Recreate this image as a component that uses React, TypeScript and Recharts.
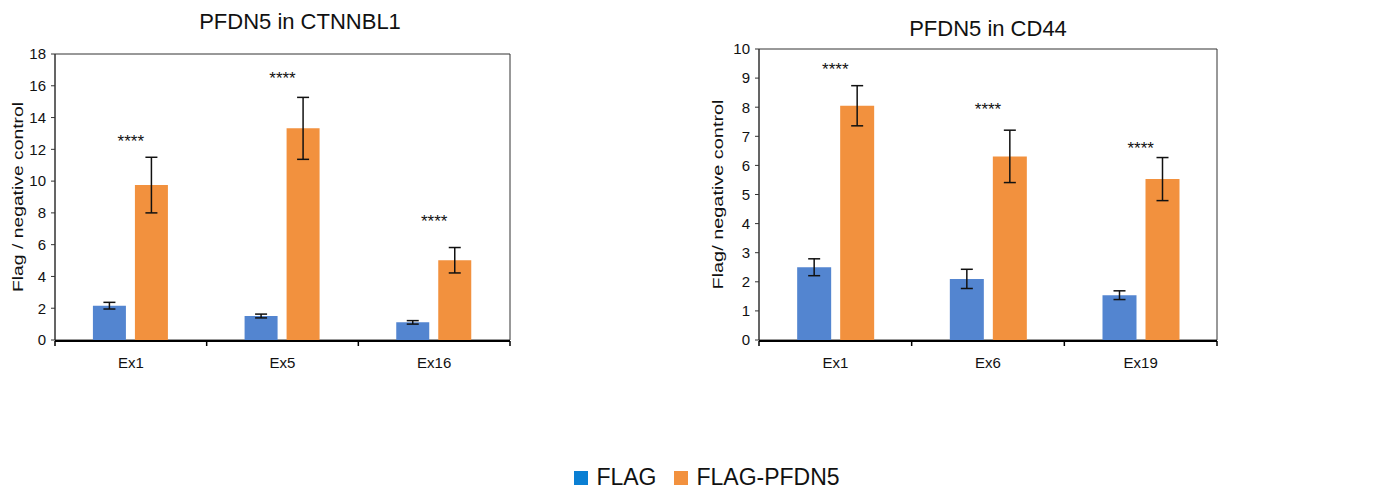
import React from 'react';
import {
  ComposedChart, Bar, Scatter, XAxis, YAxis, ErrorBar, ReferenceArea
} from 'recharts';

// left panel: PFDN5 in CTNNBL1
const ctnnbl1Exons = ['Ex1', 'Ex5', 'Ex16'];
const ctnnbl1Flag = [2.16, 1.51, 1.11];
const ctnnbl1FlagErr = [0.21, 0.12, 0.11];
const ctnnbl1Pfdn5 = [9.75, 13.32, 5.02];
const ctnnbl1Pfdn5Err = [1.75, 1.95, 0.8];
const ctnnbl1Stars = [12.7, 16.7, 7.67];
const ctnnbl1Ticks = [0, 2, 4, 6, 8, 10, 12, 14, 16, 18];

// right panel: PFDN5 in CD44
const cd44Exons = ['Ex1', 'Ex6', 'Ex19'];
const cd44Flag = [2.5, 2.1, 1.54];
const cd44FlagErr = [0.29, 0.33, 0.15];
const cd44Pfdn5 = [8.05, 6.31, 5.53];
const cd44Pfdn5Err = [0.69, 0.9, 0.74];
const cd44Stars = [9.4, 8.05, 6.69];
const cd44Ticks = [0, 1, 2, 3, 4, 5, 6, 7, 8, 9, 10];

const seriesNames = ['FLAG', 'FLAG-PFDN5'];
const BAR_BLUE = '#5385D0';
const BAR_ORANGE = '#F2913E';
const LEGEND_BLUE = '#0A7FD3';
const FONT = '"Liberation Sans", Arial, sans-serif';

const buildRows = (cats: string[], flag: number[], flagErr: number[], pf: number[], pfErr: number[], stars: number[]) =>
  cats.map((cat, i) => ({
    cat,
    pos: i + 0.5,
    flag: flag[i],
    flagErr: flagErr[i],
    pfdn5: pf[i],
    pfdn5Err: pfErr[i],
    star: stars[i],
  }));

const StarMark = (props: any) => {
  const { cx, cy } = props;
  if (cx == null || cy == null) return null;
  return (
    <text x={cx} y={cy + 9} textAnchor="middle" fontSize={17} fontFamily={FONT} fill="#111">
      ****
    </text>
  );
};

const NoLabel = () => <g />;

interface PanelProps {
  rows: any[];
  ticks: number[];
  max: number;
  yLabel: string;
  width: number;
  top: number;
  axisWidth: number;
}

const Panel: React.FC<PanelProps> = ({ rows, ticks, max, yLabel, width, top, axisWidth }) => {
  const edges = rows.map((_, i) => i).concat(rows.length);
  return (
    <ComposedChart
      width={width}
      height={380}
      data={rows}
      margin={{ top, right: 10, bottom: 10, left: 0 }}
      barCategoryGap="25%"
      barGap={9}
    >
      {/* category labels sit right on the plot edge, label offset comes from tickMargin */}
      <XAxis
        xAxisId="cat"
        dataKey="cat"
        height={1}
        axisLine={false}
        tickLine={false}
        tickSize={4}
        tickMargin={13}
        tick={{ fontSize: 15, fontFamily: FONT, fill: '#111' }}
      />
      <XAxis
        xAxisId="edge"
        dataKey="pos"
        type="number"
        domain={[0, rows.length]}
        ticks={edges}
        interval={0}
        allowDataOverflow
        height={29}
        tick={NoLabel}
        tickSize={5}
        axisLine={{ stroke: '#000', strokeWidth: 2 }}
        tickLine={{ stroke: '#000', strokeWidth: 1.5 }}
      />
      <YAxis
        yAxisId="val"
        width={axisWidth}
        domain={[0, max]}
        ticks={ticks}
        interval={0}
        tickSize={4}
        tickMargin={5}
        axisLine={{ stroke: '#333', strokeWidth: 1 }}
        tickLine={{ stroke: '#333' }}
        tick={{ fontSize: 15, fontFamily: FONT, fill: '#111' }}
        label={{
          content: (p: any) => {
            const vb = p.viewBox || {};
            const cx = (vb.x || 0) + 17;
            const cy = (vb.y || 0) + (vb.height || 0) / 2;
            return (
              <text
                x={cx}
                y={cy}
                transform={`rotate(-90 ${cx} ${cy})`}
                textAnchor="middle"
                dominantBaseline="central"
                fontSize={15}
                fontFamily={FONT}
                fill="#111"
                textLength={190}
                lengthAdjust="spacingAndGlyphs"
              >
                {yLabel}
              </text>
            );
          },
        }}
      />
      {/* plot frame */}
      <ReferenceArea
        xAxisId="edge"
        yAxisId="val"
        x1={0}
        x2={rows.length}
        y1={0}
        y2={max}
        fill="none"
        fillOpacity={0}
        stroke="#333"
        strokeWidth={1}
        ifOverflow="visible"
      />
      <Bar dataKey="flag" name={seriesNames[0]} xAxisId="cat" yAxisId="val" fill={BAR_BLUE} isAnimationActive={false}>
        <ErrorBar dataKey="flagErr" direction="y" width={6} stroke="#111" strokeWidth={1.5} />
      </Bar>
      <Bar dataKey="pfdn5" name={seriesNames[1]} xAxisId="cat" yAxisId="val" fill={BAR_ORANGE} isAnimationActive={false}>
        <ErrorBar dataKey="pfdn5Err" direction="y" width={6} stroke="#111" strokeWidth={1.5} />
      </Bar>
      <Scatter dataKey="star" xAxisId="cat" yAxisId="val" shape={StarMark} isAnimationActive={false} />
    </ComposedChart>
  );
};

const App: React.FC = () => {
  const leftRows = buildRows(ctnnbl1Exons, ctnnbl1Flag, ctnnbl1FlagErr, ctnnbl1Pfdn5, ctnnbl1Pfdn5Err, ctnnbl1Stars);
  const rightRows = buildRows(cd44Exons, cd44Flag, cd44FlagErr, cd44Pfdn5, cd44Pfdn5Err, cd44Stars);

  const title: React.CSSProperties = {
    position: 'absolute',
    fontSize: 22,
    fontFamily: FONT,
    color: '#111',
    transform: 'translate(-50%, -50%)',
    whiteSpace: 'nowrap',
  };

  return (
    <div style={{ position: 'absolute', left: 0, top: 0, width: 1394, height: 490, background: '#fff', fontFamily: FONT }}>
      <div style={{ position: 'absolute', left: 0, top: 0 }}>
        <Panel rows={leftRows} ticks={ctnnbl1Ticks} max={18} yLabel="Flag / negative control" width={520} top={54} axisWidth={55} />
      </div>
      <div style={{ position: 'absolute', left: 700, top: 0 }}>
        <Panel rows={rightRows} ticks={cd44Ticks} max={10} yLabel="Flag/ negative control" width={527} top={49} axisWidth={59} />
      </div>
      <div style={{ ...title, left: 300, top: 22 }}>PFDN5 in CTNNBL1</div>
      <div style={{ ...title, left: 988, top: 29 }}>PFDN5 in CD44</div>

      <div style={{ position: 'absolute', left: 0, width: 1394, top: 464, display: 'flex', justifyContent: 'center', alignItems: 'center', fontSize: 23, color: '#111' }}>
        <span style={{ display: 'inline-block', width: 14, height: 14, background: LEGEND_BLUE, marginRight: 8, marginLeft: 20 }} />
        <span>{seriesNames[0]}</span>
        <span style={{ display: 'inline-block', width: 14, height: 14, background: BAR_ORANGE, marginRight: 8, marginLeft: 18 }} />
        <span>{seriesNames[1]}</span>
      </div>
    </div>
  );
};

export default App;
